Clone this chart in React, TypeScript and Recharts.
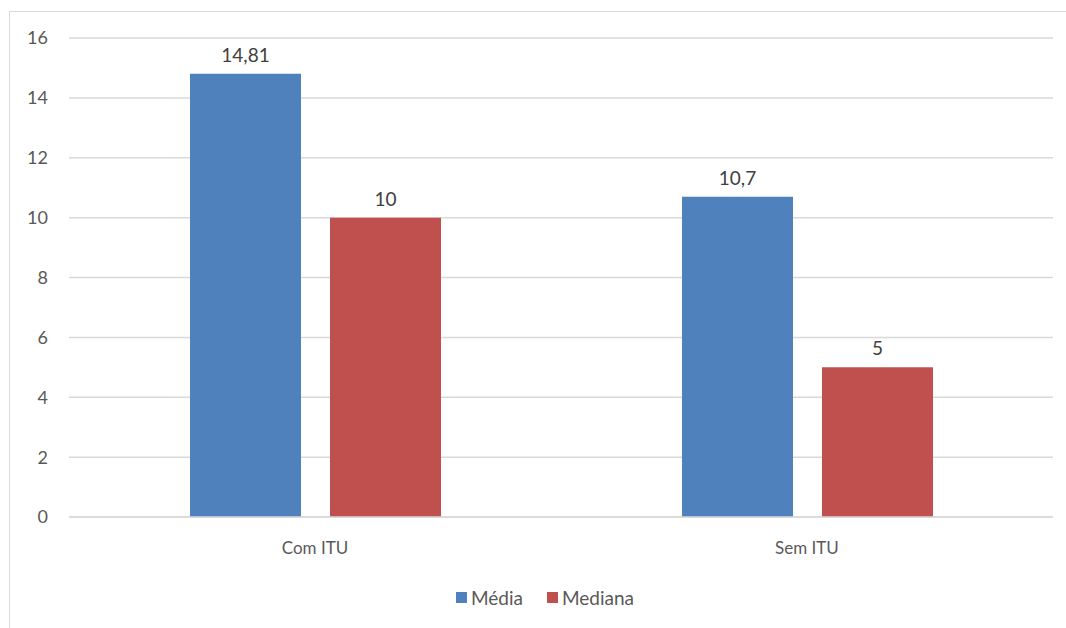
import React from "react";
import { BarChart, Bar, XAxis, YAxis, CartesianGrid, Legend, LabelList } from "recharts";

const categories = ["Com ITU", "Sem ITU"];
const mediaValues = [14.81, 10.7];
const medianaValues = [10, 5];
const yTicks = [0, 2, 4, 6, 8, 10, 12, 14, 16];
const seriesNames = ["Média", "Mediana"];
const seriesColors = ["#4f81bd", "#c0504d"];

const data = categories.map((c, i) => ({ name: c, media: mediaValues[i], mediana: medianaValues[i] }));

const FONT = "Lato, 'Open Sans', sans-serif";
const TEXT = "#595959";
const fmt = (v: any) => String(v).replace(".", ",");

const LegendContent = () => (
  <div style={{ display: "flex", justifyContent: "center", alignItems: "center", fontFamily: FONT, fontSize: 19, color: TEXT }}>
    {seriesNames.map((n, i) => (
      <div key={n} style={{ display: "flex", alignItems: "center", marginRight: i === 0 ? 24 : 0 }}>
        <span style={{ display: "inline-block", width: 11, height: 11, background: seriesColors[i], marginRight: 4 }} />
        <span>{n}</span>
      </div>
    ))}
  </div>
);

export default function App() {
  return (
    <div style={{ position: "absolute", left: 0, top: 0, width: 1066, height: 628, overflow: "hidden", background: "#fff" }}>
      <div style={{ position: "absolute", left: 9, top: 11, width: 1200, height: 800, border: "1.5px solid #d9d9d9", boxSizing: "border-box" }} />
      <div style={{ position: "absolute", left: 0, top: 0 }}>
        <BarChart
          width={1066}
          height={628}
          data={data}
          margin={{ top: 38, right: 13, bottom: 16, left: 0 }}
          barSize={111}
          barGap={29}
          style={{ fontFamily: FONT }}
        >
          <CartesianGrid vertical={false} stroke="#d9d9d9" strokeWidth={1.5} />
          <YAxis
            width={69}
            domain={[0, 16]}
            ticks={yTicks}
            axisLine={false}
            tickLine={false}
            tickSize={0}
            tickMargin={21}
            tick={{ fill: TEXT, fontSize: 18, fontFamily: FONT }}
          />
          <XAxis
            dataKey="name"
            height={72}
            axisLine={{ stroke: "#d9d9d9", strokeWidth: 1.5 }}
            tickLine={false}
            tickSize={0}
            tickMargin={25}
            tick={{ fill: TEXT, fontSize: 17, fontFamily: FONT }}
          />
          <Legend
            verticalAlign="bottom"
            align="center"
            wrapperStyle={{ bottom: undefined, top: 586, left: 0, width: 1090 }}
            content={LegendContent}
          />
          <Bar dataKey="media" name="Média" fill={seriesColors[0]} isAnimationActive={false}>
            <LabelList dataKey="media" position="top" offset={12} formatter={fmt} style={{ fill: "#404040", fontSize: 19, fontFamily: FONT }} />
          </Bar>
          <Bar dataKey="mediana" name="Mediana" fill={seriesColors[1]} isAnimationActive={false}>
            <LabelList dataKey="mediana" position="top" offset={12} formatter={fmt} style={{ fill: "#404040", fontSize: 19, fontFamily: FONT }} />
          </Bar>
        </BarChart>
      </div>
    </div>
  );
}
